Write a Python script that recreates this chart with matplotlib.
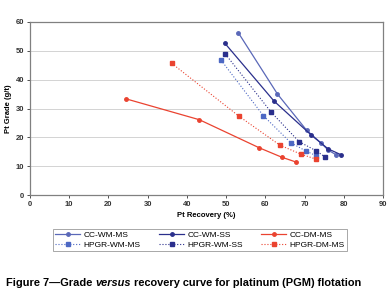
import matplotlib
matplotlib.use("Agg")
import matplotlib.pyplot as plt

plt.rcParams['font.family'] = ['Liberation Sans', 'DejaVu Sans']

cc_wm_ms_x = [53.1, 63.1, 70.5, 74.3, 76.0, 78.1]
cc_wm_ms_y = [56.3, 35.0, 22.5, 17.9, 15.6, 13.9]
cc_wm_ss_x = [49.7, 62.2, 71.7, 76.0, 79.4]
cc_wm_ss_y = [52.6, 32.6, 20.8, 16.0, 13.9]
cc_dm_ms_x = [24.6, 43.2, 58.4, 64.2, 67.9]
cc_dm_ms_y = [33.3, 26.1, 16.4, 13.1, 11.4]
hpgr_wm_ms_x = [48.7, 59.5, 66.5, 70.3, 73.0]
hpgr_wm_ms_y = [46.8, 27.5, 18.1, 15.3, 13.6]
hpgr_wm_ss_x = [49.8, 61.5, 68.6, 73.0, 75.3]
hpgr_wm_ss_y = [48.9, 28.7, 18.5, 15.3, 13.1]
hpgr_dm_ms_x = [36.1, 53.2, 63.7, 69.0, 73.0]
hpgr_dm_ms_y = [45.7, 27.4, 17.3, 14.2, 12.4]

x_ticks = [0, 10, 20, 30, 40, 50, 60, 70, 80, 90]
y_ticks = [0, 10, 20, 30, 40, 50, 60]

fig = plt.figure(figsize=(3.92, 2.94), dpi=100)
ax = fig.add_axes([30/392, 1-195/294, (383-30)/392, (195-22)/294])

c_light = '#5a68b8'
c_navy = '#2a2f8c'
c_red = '#ea4330'

h1, = ax.plot(cc_wm_ms_x, cc_wm_ms_y, '-', color=c_light, marker='o', ms=2.5, lw=0.9, label='CC-WM-MS')
h2, = ax.plot(cc_wm_ss_x, cc_wm_ss_y, '-', color=c_navy, marker='o', ms=2.5, lw=0.9, label='CC-WM-SS')
h3, = ax.plot(cc_dm_ms_x, cc_dm_ms_y, '-', color=c_red, marker='o', ms=2.5, lw=0.9, label='CC-DM-MS')
h4, = ax.plot(hpgr_wm_ms_x, hpgr_wm_ms_y, ':', color='#4d68c4', marker='s', ms=3, lw=0.8, label='HPGR-WM-MS')
h5, = ax.plot(hpgr_wm_ss_x, hpgr_wm_ss_y, ':', color=c_navy, marker='s', ms=3, lw=0.8, label='HPGR-WM-SS')
h6, = ax.plot(hpgr_dm_ms_x, hpgr_dm_ms_y, ':', color=c_red, marker='s', ms=3, lw=0.8, label='HPGR-DM-MS')

ax.set_xlim(0, 90)
ax.set_ylim(0, 60)
ax.set_xticks(x_ticks)
ax.set_yticks(y_ticks)
ax.tick_params(labelsize=5.5, length=2, width=0.6, colors='#333333', pad=2)
for lab in ax.get_xticklabels() + ax.get_yticklabels():
    lab.set_fontweight('bold')
ax.yaxis.grid(True, color='#cccccc', lw=0.6)
ax.set_axisbelow(True)
for s in ax.spines.values():
    s.set_color('#808080')
    s.set_linewidth(0.9)

ax.set_xlabel('Pt Recovery (%)', fontsize=5.5, fontweight='bold', labelpad=3)
ax.set_ylabel('Pt Grade (g/t)', fontsize=5.5, fontweight='bold', labelpad=3)

handles = [h1, h4, h2, h5, h3, h6]
labels = [h.get_label() for h in handles]
leg = fig.legend(handles, labels, ncol=3, loc='center',
                 bbox_to_anchor=(200/392, 1-240/294), fontsize=6,
                 frameon=True, fancybox=False, edgecolor='#808080',
                 handlelength=3, columnspacing=2.2, handletextpad=0.4,
                 borderpad=0.3, labelspacing=0.2)
leg.get_frame().set_linewidth(0.6)

# caption with mixed styles
fig.canvas.draw()
renderer = fig.canvas.get_renderer()
parts = [('Figure 7\u2014Grade ', 'normal'), ('versus', 'italic'),
         (' recovery curve for platinum (PGM) flotation', 'normal')]
x = 6 / 392
y = 1 - 283 / 294
for txt, style in parts:
    t = fig.text(x, y, txt, fontsize=7.9, fontweight='bold', fontstyle=style, va='center')
    bb = t.get_window_extent(renderer=renderer)
    x += bb.width / fig.bbox.width

fig.savefig('out.png', dpi=100)
